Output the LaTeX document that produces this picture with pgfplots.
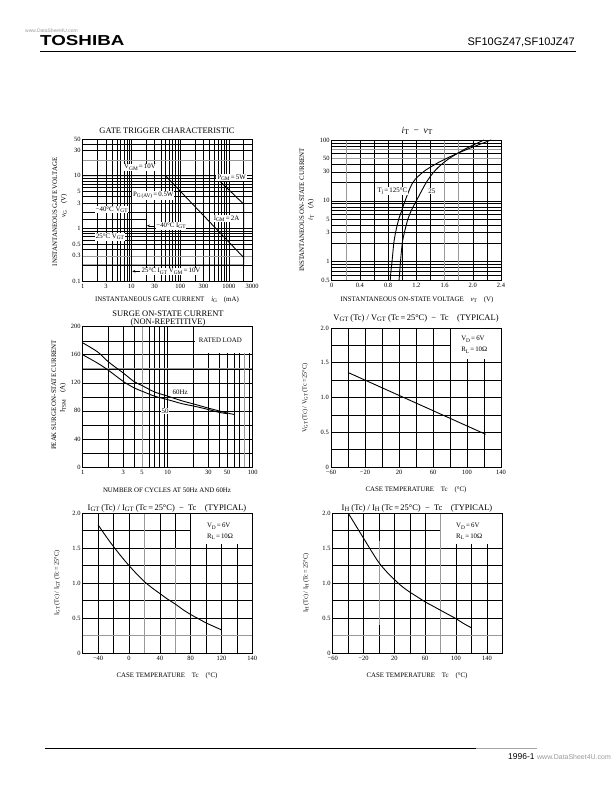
\documentclass[border=0pt]{standalone}
\usepackage{fontspec}
\setmainfont{Liberation Serif}
\newfontfamily\hsans{Liberation Sans}
\usepackage{pgfplots}
\pgfplotsset{compat=1.18}
\usetikzlibrary{arrows.meta}

\newcommand\tks{\fontsize{6.5}{7}\selectfont}
\newcommand\lbs{\fontsize{6.9}{7.5}\selectfont}
\newcommand\tts{\fontsize{8.5}{9}\selectfont}
\newcommand\sub[1]{\raisebox{-0.4ex}{\scalebox{0.78}{#1}}}

\tikzset{
  curve/.style={black, line width=0.9pt, line join=round},
  lab/.style={font=\lbs, fill=white, inner sep=0.8pt},
  gl/.style={black!40, line width=0.6pt},
}
\pgfplotsset{
 dsbase/.style={
  scale only axis, anchor=south west,
  axis line style={line width=0.9pt},
  major tick length=0pt, minor tick length=0pt,
  grid=both,
  major grid style={draw=black, line width=0.55pt},
  minor grid style={draw=black, line width=0.45pt},
  tick label style={font=\tks},
  /pgf/number format/assume math mode=true,
  xticklabel style={inner sep=1.5pt, yshift=-1.5pt},
  yticklabel style={inner sep=2pt},
  clip=false,
 },
}

\begin{document}
\begin{tikzpicture}
\path[fill=white] (0,0) rectangle (612bp,792bp);
\path[use as bounding box] (0,0) rectangle (612bp,792bp);

% ---------- Chart 1: gate trigger characteristic
\begin{axis}[dsbase, at={(82.7bp,511bp)}, width=169.5bp, height=142bp,
 xmode=log, ymode=log, xmin=1, xmax=3000, ymin=0.1, ymax=50,
 xtick={1,3,10,30,100,300,1000,3000}, xticklabels={1,3,10,30,100,300,1000,3000},
 ytick={0.1,0.3,0.5,1,3,5,10,30,50}, yticklabels={0.1,0.3,0.5,1,3,5,10,30,50},
 minor xtick={2,4,5,6,7,8,9,20,40,50,60,70,80,90,200,400,500,600,700,800,900,2000},
 minor ytick={0.2,0.4,0.6,0.7,0.8,0.9,2,4,6,7,8,9,20,40}]
\draw[gl] (axis cs:1,20) -- (axis cs:3000,20);
\draw[gl] (axis cs:1,0.3) -- (axis cs:3000,0.3);
\addplot[curve] coordinates {(1,10) (500,10) (2000,2.9) (2000,0.2) (1,0.2)};
\addplot[curve] coordinates {(50,10) (2000,0.28)};
\addplot[curve] coordinates {(1,1.5) (20,1.5) (20,0.2)};
\addplot[curve] coordinates {(1,1) (10,1) (10,0.115)};
\node[lab] at (axis cs:15,14.5) {V\sub{GM}\,=\,10V};
\node[lab] at (axis cs:1130,9.3) {P\sub{GM}\,=\,5W};
\node[lab] at (axis cs:28,4.2) {P\sub{G\,(AV)}\,=\,0.5W};
\node[lab] at (axis cs:893,1.53) {I\sub{GM}\,=\,2A};
\node[lab] at (axis cs:3.93,2.27) {−40°C V\sub{GT}};
\node[lab] at (axis cs:3.63,0.69) {25°C V\sub{GT}};
\draw[-{Stealth[length=3pt,width=2.5pt]}, line width=0.5pt] (axis cs:30,1.12) -- (axis cs:20.8,1.12);
\node[lab, anchor=west] at (axis cs:31,1.12) {−40°C I\sub{GT}};
\draw[-{Stealth[length=3pt,width=2.5pt]}, line width=0.5pt] (axis cs:15,0.153) -- (axis cs:10.4,0.153);
\node[lab, anchor=west] at (axis cs:15.5,0.153) {25°C I\sub{GT} V\sub{GM}\,=\,10V};
\draw[line width=0.9pt] (rel axis cs:0,0) rectangle (rel axis cs:1,1);
\end{axis}

% ---------- Chart 2: iT - vT
\begin{axis}[dsbase, at={(331.7bp,512bp)}, width=169.3bp, height=140bp,
 ymode=log, xmin=0, xmax=2.4, ymin=0.5, ymax=100,
 xtick={0,0.4,0.8,1.2,1.6,2.0,2.4}, xticklabels={0,0.4,0.8,1.2,1.6,2.0,2.4},
 minor x tick num=1,
 ytick={0.5,1,3,5,10,30,50,100}, yticklabels={0.5,1,3,5,10,30,50,100},
 minor ytick={0.6,0.7,0.8,0.9,2,4,6,7,8,9,20,40,60,70,80,90}]
\draw[gl] (axis cs:0.2,0.5) -- (axis cs:0.2,100);
\draw[gl] (axis cs:1.6,0.5) -- (axis cs:1.6,100);
\draw[gl] (axis cs:1.8,0.5) -- (axis cs:1.8,100);
\draw[gl] (axis cs:0,50) -- (axis cs:2.4,50);
\draw[gl] (axis cs:0,70) -- (axis cs:2.4,70);
\addplot[curve, smooth, tension=0.5] coordinates {(0.83,0.5)(0.84,0.7)(0.855,1)(0.88,2)(0.905,3)(0.95,5)(0.995,7)(1.04,10)(1.15,20)(1.30,30)(1.47,40)(1.63,50)(1.78,60)(1.98,75)(2.26,100)};
\addplot[curve, smooth, tension=0.5] coordinates {(0.955,0.5)(0.965,0.7)(0.975,1)(1.0,2)(1.03,3)(1.08,5)(1.13,7)(1.20,10)(1.34,20)(1.45,30)(1.56,40)(1.67,50)(1.78,60)(1.93,75)(2.16,100)};
\node[lab] at (axis cs:0.86,14.5) {T\sub{j}\,=\,125°C};
\node[lab] at (axis cs:1.42,14.5) {25};
\draw[line width=0.9pt] (rel axis cs:0,0) rectangle (rel axis cs:1,1);
\end{axis}

% ---------- Chart 3: surge on-state current
\begin{axis}[dsbase, at={(82.7bp,325bp)}, width=170bp, height=140.3bp,
 xmode=log, xmin=1, xmax=100, ymin=0, ymax=200,
 xtick={1,3,5,10,30,50,100}, xticklabels={1,3,5,10,30,50,100},
 minor xtick={2,4,6,7,8,9,20,40,60,70,80,90},
 ytick={0,40,80,120,160,200}, yticklabels={0,40,80,120,160,200},
 minor ytick={20,60,100,140,180}]
\draw[gl] (axis cs:1,140) -- (axis cs:100,140);
\draw[gl] (axis cs:5,0) -- (axis cs:5,200);
\draw[gl] (axis cs:80,0) -- (axis cs:80,200);
\addplot[curve, smooth, tension=0.5] coordinates {(1,177)(1.5,164)(2,150)(3,134)(4,122)(5,116)(7,107)(10,101)(15,94)(20,90)(30,84)(40,80)(50,77)(60,75)};
\addplot[curve, smooth, tension=0.5] coordinates {(1,160)(1.5,148)(2,138)(3,122)(4,113)(5,108)(7,101)(10,96)(15,90)(20,87)(30,82)(40,78)(50,76)};
\fill[white] (axis cs:21,162) rectangle (axis cs:100,200);
\node[font=\lbs] at (axis cs:41.6,180) {RATED LOAD};
\node[lab] at (axis cs:14,107) {60Hz};
\node[lab] at (axis cs:9.3,80) {50};
\draw[line width=0.9pt] (rel axis cs:0,0) rectangle (rel axis cs:1,1);
\end{axis}

% ---------- Chart 4: VGT ratio
\begin{axis}[dsbase, at={(331bp,325bp)}, width=170bp, height=139bp,
 xmin=-60, xmax=140, ymin=0, ymax=2,
 xtick={-60,-20,20,60,100,140}, xticklabels={−60,−20,20,60,100,140},
 minor x tick num=1,
 ytick={0,0.5,1,1.5,2}, yticklabels={0,0.5,1.0,1.5,2.0},
 minor y tick num=1]
\addplot[curve] coordinates {(-40,1.36) (122,0.47)};
\fill[white] (axis cs:81,1.55) rectangle (axis cs:140,2);
\node[font=\lbs, anchor=west, inner sep=0] at (axis cs:93,1.84) {V\sub{D}\,=\,6V};
\node[font=\lbs, anchor=west, inner sep=0] at (axis cs:93,1.68) {R\sub{L}\,=\,10Ω};
\draw[line width=0.9pt] (rel axis cs:0,0) rectangle (rel axis cs:1,1);
\end{axis}

% ---------- Chart 5: IGT ratio
\begin{axis}[dsbase, at={(82.7bp,139bp)}, width=169.6bp, height=140bp,
 xmin=-60, xmax=160, ymin=0, ymax=2,
 xtick={-40,0,40,80,120,160}, xticklabels={−40,0,40,80,120,140},
 minor xtick={-60,-20,20,60,100,140},
 ytick={0,0.5,1,1.5,2}, yticklabels={0,0.5,1.0,1.5,2.0},
 minor y tick num=1]
\draw[gl] (axis cs:-60,0.25) -- (axis cs:160,0.25);
\draw[gl] (axis cs:20,0) -- (axis cs:20,2);
\draw[gl] (axis cs:60,0) -- (axis cs:60,1.5);
\addplot[curve, smooth, tension=0.5] coordinates {(-40,1.83)(-30,1.67)(-20,1.52)(-10,1.38)(0,1.25)(10,1.13)(20,1.02)(30,0.93)(40,0.85)(50,0.77)(60,0.70)(70,0.62)(80,0.55)(90,0.49)(100,0.43)(110,0.38)(120,0.33)};
\fill[white] (axis cs:81,1.55) rectangle (axis cs:160,2);
\node[font=\lbs, anchor=west, inner sep=0] at (axis cs:101,1.81) {V\sub{D}\,=\,6V};
\node[font=\lbs, anchor=west, inner sep=0] at (axis cs:101,1.66) {R\sub{L}\,=\,10Ω};
\draw[line width=0.9pt] (rel axis cs:0,0) rectangle (rel axis cs:1,1);
\end{axis}

% ---------- Chart 6: IH ratio
\begin{axis}[dsbase, at={(332.7bp,139bp)}, width=169.6bp, height=140bp,
 xmin=-60, xmax=160, ymin=0, ymax=2,
 xtick={-60,-20,20,60,100,140}, xticklabels={−60,−20,20,60,100,140},
 minor xtick={-40,0,40,80,120},
 ytick={0,0.5,1,1.5,2}, yticklabels={0,0.5,1.0,1.5,2.0},
 minor y tick num=1]
\draw[gl] (axis cs:-60,0.25) -- (axis cs:160,0.25);
\draw[gl] (axis cs:0,0.4) -- (axis cs:0,1.6);
\draw[gl] (axis cs:80,0) -- (axis cs:80,2);
\addplot[curve, smooth, tension=0.5] coordinates {(-40,2.0)(-30,1.82)(-20,1.64)(-10,1.46)(0,1.29)(10,1.16)(20,1.05)(30,0.95)(40,0.87)(50,0.80)(60,0.73)(70,0.67)(80,0.61)(90,0.55)(100,0.49)(110,0.42)(120,0.36)};
\fill[white] (axis cs:81,1.55) rectangle (axis cs:160,2);
\node[font=\lbs, anchor=west, inner sep=0] at (axis cs:100,1.81) {V\sub{D}\,=\,6V};
\node[font=\lbs, anchor=west, inner sep=0] at (axis cs:100,1.66) {R\sub{L}\,=\,10Ω};
\draw[line width=0.9pt] (rel axis cs:0,0) rectangle (rel axis cs:1,1);
\end{axis}

% ---------- page texts (pixel coordinates, y downward)
\begin{scope}[shift={(0,792bp)}, x=1bp, y=-1bp]
\node[anchor=base west, inner sep=0, font=\hsans\bfseries\fontsize{14.5}{15}\selectfont] at (40,46) {\scalebox{1.3}[1]{TOSHIBA}};
\node[anchor=base east, inner sep=0, font=\hsans\fontsize{11}{11}\selectfont] at (575,46) {SF10GZ47,SF10JZ47};
\draw[line width=0.8pt] (40,51) -- (576,51);
\node[anchor=base west, inner sep=0, font=\hsans\fontsize{5}{5}\selectfont, text=black!40] at (25,33) {www.DataSheet4U.com};
\draw[line width=0.6pt] (45,748) -- (476,748);
\draw[line width=0.6pt, black!35] (476,748) -- (537,748);
\node[anchor=base west, inner sep=0, font=\hsans\fontsize{8.5}{9}\selectfont] at (508,760) {1996-1};
\node[anchor=base west, inner sep=0, font=\hsans\fontsize{7}{8}\selectfont, text=black!40] at (537,760) {www.DataSheet4U.com};

% chart 1
\node[font=\tts] at (167,131) {GATE TRIGGER CHARACTERISTIC};
\node[font=\lbs] at (167,300) {INSTANTANEOUS GATE CURRENT\quad \textit{i}\sub{G}\quad (mA)};
\node[font=\lbs, rotate=90] at (55,212) {INSTANTANEOUS GATE VOLTAGE};
\node[font=\lbs, rotate=90] at (64,206) {\textit{v}\sub{G}\quad (V)};
% chart 2
\node[font=\fontsize{9.5}{10}\selectfont] at (417,131) {\textit{i}\sub{T}\enspace−\enspace\textit{v}\sub{T}};
\node[font=\lbs] at (417,300) {INSTANTANEOUS ON-STATE VOLTAGE\quad \textit{v}\sub{T}\quad (V)};
\node[font=\lbs, rotate=90] at (302,210) {INSTANTANEOUS ON-STATE CURRENT};
\node[font=\lbs, rotate=90] at (311,210) {\textit{i}\sub{T}\quad (A)};
% chart 3
\node[font=\tts] at (168,314) {SURGE ON-STATE CURRENT};
\node[font=\tts] at (168,322) {(NON-REPETITIVE)};
\node[font=\lbs] at (167,490) {NUMBER OF CYCLES AT 50Hz AND 60Hz};
\node[font=\lbs, rotate=90] at (54,395) {PEAK SURGE ON-STATE CURRENT};
\node[font=\lbs, rotate=90] at (63,398) {I\sub{TSM}\quad (A)};
% chart 4
\node[font=\tts] at (416,318) {V\sub{GT} (Tc) / V\sub{GT} (Tc\,=\,25°C)\enspace −\enspace Tc\quad (TYPICAL)};
\node[font=\lbs] at (416,490) {CASE TEMPERATURE\quad Tc\quad (°C)};
\node[font=\fontsize{6.3}{7}\selectfont, rotate=90] at (305,398) {V\sub{GT} (Tc) / V\sub{GT} (Tc\,=\,25°C)};
% chart 5
\node[font=\tts] at (167,508) {I\sub{GT} (Tc) / I\sub{GT} (Tc\,=\,25°C)\enspace −\enspace Tc\quad (TYPICAL)};
\node[font=\lbs] at (167,676) {CASE TEMPERATURE\quad Tc\quad (°C)};
\node[font=\fontsize{6.3}{7}\selectfont, rotate=90] at (57,583) {I\sub{GT} (Tc) / I\sub{GT} (Tc\,=\,25°C)};
% chart 6
\node[font=\tts] at (417,508) {I\sub{H} (Tc) / I\sub{H} (Tc\,=\,25°C)\enspace −\enspace Tc\quad (TYPICAL)};
\node[font=\lbs] at (417,676) {CASE TEMPERATURE\quad Tc\quad (°C)};
\node[font=\fontsize{6.3}{7}\selectfont, rotate=90] at (306,583) {I\sub{H} (Tc) / I\sub{H} (Tc\,=\,25°C)};
\end{scope}
\end{tikzpicture}
\end{document}
